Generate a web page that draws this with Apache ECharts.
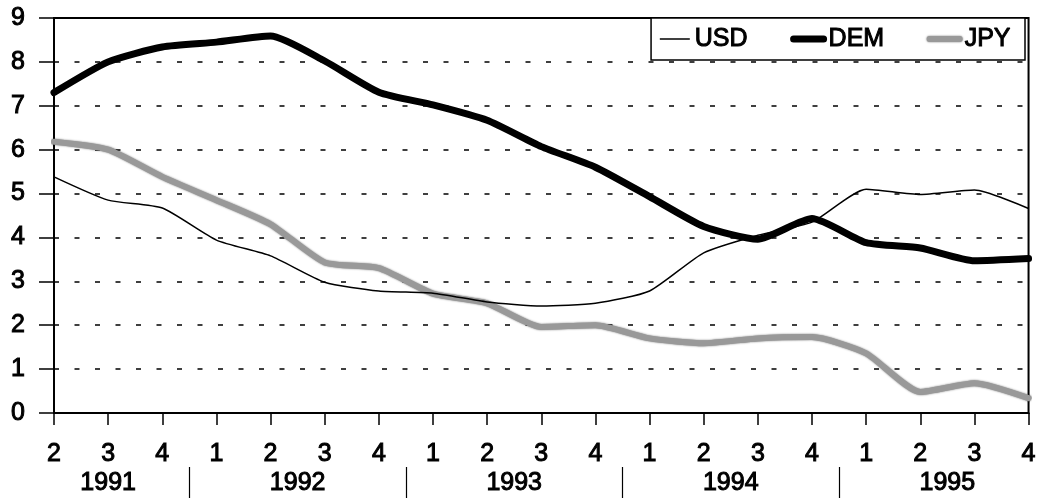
<!DOCTYPE html>
<html>
<head>
<meta charset="utf-8">
<script src="https://cdn.jsdelivr.net/npm/echarts@6/dist/echarts.min.js"></script>
<style>
  html, body { margin: 0; padding: 0; background: #fff; }
  #chart { width: 1039px; height: 498px; }
</style>
</head>
<body>
<div id="chart"></div>
<script>
// quarters 1991 Q2 .. 1995 Q4
var quarters = ['2','3','4','1','2','3','4','1','2','3','4','1','2','3','4','1','2','3','4']
var years = ['1991','1992','1993','1994','1995']
// year label centres and separators, in quarter-index units
var yearCenters = [1, 4.5, 8.5, 12.5, 16.5]
var yearBreaks = [2.5, 6.5, 10.5, 14.5]

var usd = [5.38, 4.85, 4.67, 3.94, 3.58, 2.98, 2.78, 2.73, 2.53, 2.44, 2.5, 2.78, 3.65, 4.05, 4.35, 5.1, 4.98, 5.08, 4.66]
var dem = [7.3, 8.0, 8.34, 8.45, 8.59, 8.02, 7.31, 7.02, 6.67, 6.07, 5.6, 4.93, 4.25, 3.96, 4.43, 3.88, 3.76, 3.47, 3.52]
var jpy = [6.18, 6.0, 5.38, 4.85, 4.3, 3.43, 3.3, 2.72, 2.5, 1.96, 2.0, 1.7, 1.59, 1.7, 1.73, 1.36, 0.48, 0.68, 0.34]

var font = 'Liberation Sans, Arial, sans-serif'
var txt = { fontSize: 25, color: '#000', fontFamily: font, textBorderColor: '#000', textBorderWidth: 1 }

var usdLine = { color: '#000', width: 1.5 }
var demLine = { color: '#000', width: 7, cap: 'round', join: 'round' }
var jpyLine = { color: '#999', width: 6, cap: 'round', join: 'round', shadowColor: 'rgba(0,0,0,0.55)', shadowBlur: 2 }

var chart = echarts.init(document.getElementById('chart'))
var option = {
  animation: false,
  backgroundColor: '#fff',
  textStyle: { fontFamily: font, color: '#000' },
  grid: {
    left: 54, right: 9, top: 18, bottom: 85,
    show: true, borderColor: '#000', borderWidth: 2
  },
  legend: {
    right: 14, top: 18,
    backgroundColor: '#fff',
    borderColor: '#000', borderWidth: 1.5,
    padding: [8, 14, 8, 8],
    itemWidth: 30, itemHeight: 14, itemGap: 42,
    itemStyle: { opacity: 0 },
    textStyle: txt,
    data: [
      { name: 'USD', lineStyle: usdLine },
      { name: 'DEM', lineStyle: demLine },
      { name: 'JPY', lineStyle: jpyLine }
    ]
  },
  xAxis: [
    {
      type: 'category',
      data: quarters,
      boundaryGap: false,
      axisLine: { lineStyle: { color: '#000', width: 2 } },
      axisTick: { alignWithLabel: true, length: 12, lineStyle: { color: '#000', width: 1.5 } },
      axisLabel: Object.assign({ margin: 29 }, txt),
      splitLine: { show: false }
    },
    {
      type: 'value',
      min: 0, max: 18,
      position: 'bottom',
      offset: 54,
      axisLine: { show: false },
      splitLine: { show: false },
      axisTick: { show: true, customValues: yearBreaks, length: 32, lineStyle: { color: '#000', width: 1.2 } },
      axisLabel: Object.assign({
        customValues: yearCenters,
        margin: 4,
        formatter: function (v) {
          var i = yearCenters.indexOf(v)
          return i >= 0 ? years[i] : ''
        }
      }, txt)
    }
  ],
  yAxis: {
    type: 'value',
    min: 0, max: 9, interval: 1,
    axisLine: { show: true, lineStyle: { color: '#000', width: 2 } },
    axisTick: { show: true, length: 15, lineStyle: { color: '#000', width: 1.5 } },
    axisLabel: Object.assign({ margin: 29 }, txt),
    splitLine: { lineStyle: { color: '#000', width: 1.5, type: [5, 15.5] } }
  },
  series: [
    { name: 'USD', type: 'line', data: usd, smooth: 0.2, symbol: 'none', color: '#000', lineStyle: usdLine, z: 4 },
    { name: 'DEM', type: 'line', data: dem, smooth: 0.2, symbol: 'none', color: '#000', lineStyle: demLine, z: 3 },
    { name: 'JPY', type: 'line', data: jpy, smooth: 0.2, symbol: 'none', color: '#999', lineStyle: jpyLine, z: 2 }
  ]
}
chart.setOption(option)
</script>
</body>
</html>
